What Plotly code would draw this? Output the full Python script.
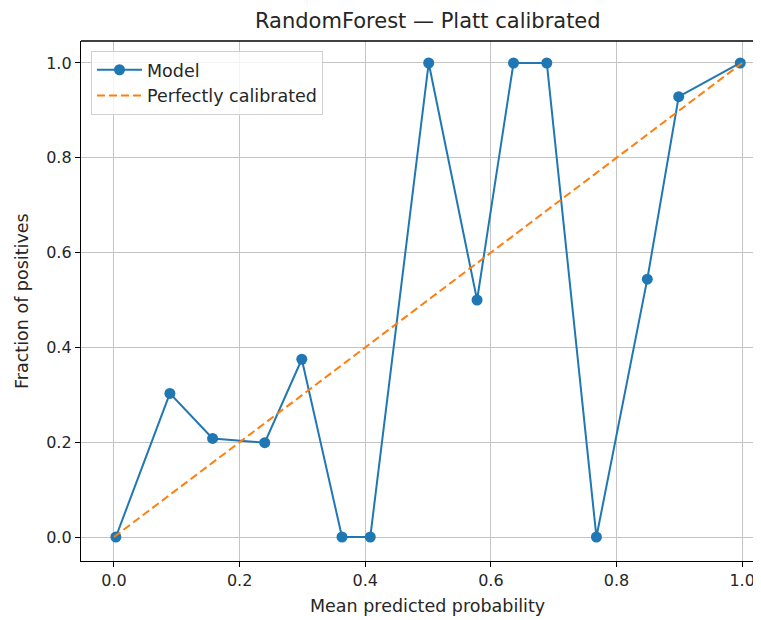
import plotly.graph_objects as go

mean_pred = [0.003, 0.089, 0.157, 0.240, 0.299, 0.363, 0.408, 0.501, 0.578, 0.636, 0.689, 0.768, 0.849, 0.899, 0.997]
frac_pos = [0.0, 0.303, 0.208, 0.199, 0.375, 0.0, 0.0, 1.0, 0.5, 1.0, 1.0, 0.0, 0.544, 0.929, 1.0]
diag_x = [0.0, 1.0]
diag_y = [0.0, 1.0]
tick_vals = [0.0, 0.2, 0.4, 0.6, 0.8, 1.0]
tick_text = ["0.0", "0.2", "0.4", "0.6", "0.8", "1.0"]

FONT = "DejaVu Sans"
TXT = "#262626"

fig = go.Figure()
fig.add_trace(go.Scatter(x=mean_pred, y=frac_pos, mode="lines+markers", name="Model",
                         line=dict(color="#1f77b4", width=2),
                         marker=dict(color="#1f77b4", size=11)))
fig.add_trace(go.Scatter(x=diag_x, y=diag_y, mode="lines", name="Perfectly calibrated",
                         line=dict(color="#ff7f0e", width=2, dash="8px,4px")))

axis_common = dict(
    showgrid=True, gridcolor="#c4c4c4", gridwidth=1,
    zeroline=False, showline=True, linecolor="black", linewidth=1.3,
    ticks="outside", ticklen=5, tickcolor="black", tickwidth=1,
    tickvals=tick_vals, ticktext=tick_text,
    tickfont=dict(family=FONT, size=16, color=TXT),
)

fig.update_layout(
    width=753, height=612,
    margin=dict(l=73, r=0, t=33, b=59),
    paper_bgcolor="white", plot_bgcolor="white",
    font=dict(family=FONT, size=16, color=TXT),
    title=dict(text="RandomForest — Platt calibrated", x=0.51, xref="paper", xanchor="center",
               y=0.980, yanchor="middle", font=dict(family=FONT, size=21, color=TXT)),
    xaxis=dict(range=[-0.0525, 1.030], **axis_common),
    yaxis=dict(range=[-0.0506, 1.0464], **axis_common),
    showlegend=True,
    legend=dict(x=0.0147, y=0.981, xanchor="left", yanchor="top",
                bgcolor="rgba(255,255,255,0.8)", bordercolor="#d0d0d0", borderwidth=1,
                itemwidth=45,
                font=dict(family=FONT, size=17.5, color=TXT), tracegroupgap=6),
)

fig.add_shape(type="line", xref="paper", yref="paper", x0=0, x1=1, y0=1, y1=1,
              line=dict(color="black", width=1.3))

fig.add_annotation(text="Mean predicted probability", xref="paper", yref="paper",
                   x=0.510, y=-0.0865, xanchor="center", yanchor="middle",
                   showarrow=False, font=dict(family=FONT, size=17.5, color=TXT))
fig.add_annotation(text="Fraction of positives", xref="paper", yref="paper",
                   x=-0.0868, y=0.5, xanchor="center", yanchor="middle", textangle=-90,
                   showarrow=False, font=dict(family=FONT, size=17.5, color=TXT))

fig.write_html("out.html")
